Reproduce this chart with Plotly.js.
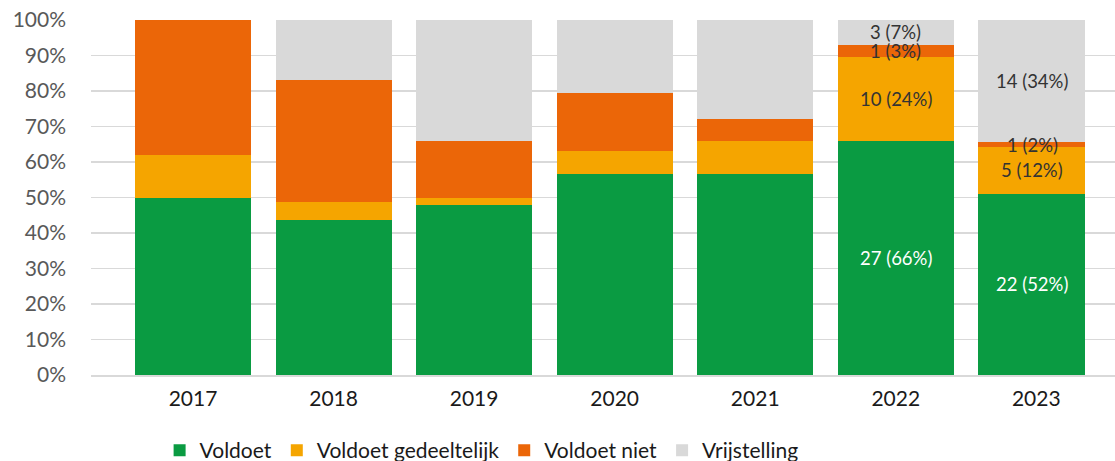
<!DOCTYPE html>
<html>
<head>
<meta charset="utf-8">
<script src="https://cdn.plot.ly/plotly-3.0.1.min.js"></script>
<style>html,body{margin:0;padding:0;background:#fff;}#chart{width:1115px;height:461px;}</style>
</head>
<body>
<div id="chart"></div>
<script>
const years = ['2017', '2018', '2019', '2020', '2021', '2022', '2023'];
const voldoet = [50.0, 43.8, 48.0, 56.7, 56.5, 65.8, 51.1];
const voldoetGedeeltelijk = [12.0, 4.8, 2.0, 6.5, 9.3, 23.9, 13.1];
const voldoetNiet = [38.0, 34.6, 15.8, 16.1, 6.2, 3.4, 1.3];
const vrijstelling = [0.0, 16.8, 34.2, 20.7, 28.0, 6.9, 34.5];

const voldoetLabels = ['', '', '', '', '', '27 (66%)', '22 (52%)'];
const gedeeltelijkLabels = ['', '', '', '', '', '10 (24%)', '5 (12%)'];
const nietLabels = ['', '', '', '', '', '1 (3%)', '1 (2%)'];
const vrijstellingLabels = ['', '', '', '', '', '3 (7%)', '14 (34%)'];

const FONT = 'Lato, "Noto Sans", sans-serif';
const seriesDefs = [
  {name: 'Voldoet', vals: voldoet, labels: voldoetLabels, color: '#0a9b42', txt: '#ffffff'},
  {name: 'Voldoet gedeeltelijk', vals: voldoetGedeeltelijk, labels: gedeeltelijkLabels, color: '#f5a500', txt: '#333333'},
  {name: 'Voldoet niet', vals: voldoetNiet, labels: nietLabels, color: '#eb6608', txt: '#333333'},
  {name: 'Vrijstelling', vals: vrijstelling, labels: vrijstellingLabels, color: '#d9d9d9', txt: '#333333'}
];

const barW = years.map((y, i) => i === years.length - 1 ? 0.762 : 0.826);
const barOff = years.map(() => -0.413);

const traces = seriesDefs.map(s => ({
  type: 'bar',
  name: s.name,
  x: years,
  y: s.vals.map(v => v / 100),
  width: barW,
  offset: barOff,
  marker: {color: s.color, line: {width: 0}},
  hoverinfo: 'none'
}));

const annotations = [];
const cum = years.map(() => 0);
seriesDefs.forEach(s => {
  s.vals.forEach((v, i) => {
    const mid = cum[i] + v / 2;
    cum[i] += v;
    if (s.labels[i]) {
      annotations.push({
        x: i, y: mid / 100, xref: 'x', yref: 'y',
        text: s.labels[i], showarrow: false,
        xshift: i === years.length - 1 ? -4 : 0,
        font: {family: FONT, size: 18.5, color: s.txt}
      });
    }
  });
});

const layout = {
  width: 1115, height: 461,
  margin: {l: 91, r: 0, t: 20, b: 86, autoexpand: false},
  paper_bgcolor: '#ffffff', plot_bgcolor: '#ffffff',
  barmode: 'stack',
  showlegend: true,
  legend: {
    orientation: 'h', x: 0.067, xanchor: 'left', y: -0.155, yanchor: 'top',
    font: {family: FONT, size: 21, color: '#1a1a1a'},
    itemwidth: 30, traceorder: 'normal'
  },
  xaxis: {
    type: 'category', range: [-0.726, 6.56],
    showgrid: false, showline: true, linecolor: '#d9d9d9', linewidth: 1.5,
    ticks: '', ticklabelstandoff: 4,
    tickfont: {family: FONT, size: 21, color: '#1a1a1a'}
  },
  yaxis: {
    range: [0, 1], tickvals: [0, 0.1, 0.2, 0.3, 0.4, 0.5, 0.6, 0.7, 0.8, 0.9, 1],
    ticktext: ['0%', '10%', '20%', '30%', '40%', '50%', '60%', '70%', '80%', '90%', '100%'],
    showgrid: true, gridcolor: '#d9d9d9', gridwidth: 1.5,
    zeroline: false, showline: false, ticks: '', ticklabelstandoff: 24,
    tickfont: {family: FONT, size: 21, color: '#595959'}
  },
  annotations: annotations
};

Plotly.newPlot('chart', traces, layout, {displayModeBar: false, staticPlot: true});
</script>
</body>
</html>
